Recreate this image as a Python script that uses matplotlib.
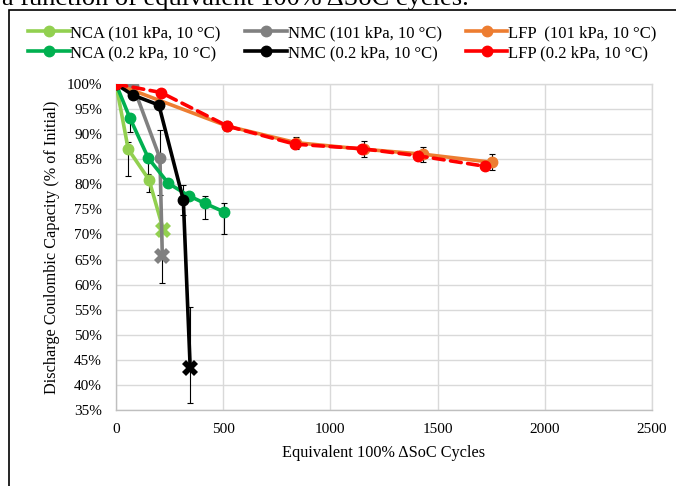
import matplotlib
matplotlib.use('Agg')
import matplotlib.pyplot as plt
from matplotlib.patches import Rectangle
from matplotlib.lines import Line2D
from matplotlib.ticker import FuncFormatter

plt.rcParams['font.family'] = ['Liberation Serif', 'DejaVu Serif']

# NCA, 101 kPa
nca_hi_x = [0, 57, 154, 221]
nca_hi_y = [100, 87.0, 80.9, 70.9]
nca_hi_lo = [0, 5.3, 2.4, 0]
nca_hi_up = [0, 1.5, 0, 0]

# NMC, 101 kPa
nmc_hi_x = [0, 80, 205, 216]
nmc_hi_y = [100, 99.6, 85.2, 65.7]
nmc_hi_lo = [0, 0, 7.3, 5.4]
nmc_hi_up = [0, 0, 5.6, 5.4]

# LFP, 101 kPa
lfp_hi_x = [0, 520, 840, 1155, 1433, 1752]
lfp_hi_y = [100, 91.6, 88.3, 87.0, 86.0, 84.4]
lfp_hi_err = [0, 1.0, 1.2, 1.6, 1.5, 1.6]

# NCA, 0.2 kPa
nca_lo_x = [0, 65, 151, 244, 340, 415, 504]
nca_lo_y = [100, 93.2, 85.2, 80.2, 77.7, 76.2, 74.5]
nca_lo_lo = [0, 2.8, 3.1, 0, 0, 3.2, 4.4]
nca_lo_up = [0, 0, 0, 0, 0, 1.5, 1.8]

# NMC, 0.2 kPa
nmc_lo_x = [0, 78, 200, 314, 346]
nmc_lo_y = [100, 97.8, 95.8, 76.9, 43.4]
nmc_lo_lo = [0, 0, 0, 3.0, 7.1]
nmc_lo_up = [0, 0, 0, 3.0, 12.1]

# LFP, 0.2 kPa
lfp_lo_x = [0, 210, 520, 835, 1148, 1408, 1720]
lfp_lo_y = [100, 98.3, 91.6, 88.0, 87.1, 85.7, 83.6]

c_nca_hi = '#92D050'
c_nmc_hi = '#808080'
c_lfp_hi = '#ED7D31'
c_nca_lo = '#00B050'
c_nmc_lo = '#000000'
c_lfp_lo = '#FF0000'

fig = plt.figure(figsize=(6.76, 4.86), dpi=100)
ax = fig.add_axes([116/676, 1-410/486, 536/676, 326/486])

lw = 2.6
ms = 7.5
eb = dict(fmt='none', ecolor='black', elinewidth=0.8, capsize=2.5, capthick=0.8)


def series(x, y, color, z, last_x=False, ls='-'):
    n = len(x)
    circ = list(range(n - 1)) if last_x else list(range(n))
    ax.plot(x, y, color=color, lw=lw, ls=ls, marker='o', ms=ms,
            markevery=circ, zorder=z, dash_capstyle='round',
            solid_capstyle='round')
    if last_x:
        ax.plot(x[-1:], y[-1:], 'X', color=color, ms=12, mew=0, zorder=z)


# error bars first so the markers sit over them
ax.errorbar(nca_hi_x, nca_hi_y, yerr=[nca_hi_lo, nca_hi_up], zorder=2, **eb)
ax.errorbar(nmc_hi_x, nmc_hi_y, yerr=[nmc_hi_lo, nmc_hi_up], zorder=2, **eb)
ax.errorbar(lfp_hi_x, lfp_hi_y, yerr=lfp_hi_err, zorder=2, **eb)
ax.errorbar(nca_lo_x, nca_lo_y, yerr=[nca_lo_lo, nca_lo_up], zorder=2, **eb)
ax.errorbar(nmc_lo_x, nmc_lo_y, yerr=[nmc_lo_lo, nmc_lo_up], zorder=2, **eb)

series(nca_hi_x, nca_hi_y, c_nca_hi, 3, last_x=True)
series(nmc_hi_x, nmc_hi_y, c_nmc_hi, 4, last_x=True)
series(lfp_hi_x, lfp_hi_y, c_lfp_hi, 5)
series(nca_lo_x, nca_lo_y, c_nca_lo, 6)
series(nmc_lo_x, nmc_lo_y, c_nmc_lo, 7, last_x=True)
series(lfp_lo_x, lfp_lo_y, c_lfp_lo, 8, ls=(0, (3.0, 1.8)))

ax.set_xlim(0, 2500)
ax.set_ylim(35, 100)
ax.set_xticks(range(0, 2501, 500))
ax.set_yticks(range(35, 101, 5))
ax.yaxis.set_major_formatter(FuncFormatter(lambda v, p: f'{v:.0f}%'))
ax.grid(True, color='#D9D9D9', lw=1)
ax.set_axisbelow(True)
for s in ax.spines.values():
    s.set_color('#D9D9D9')
    s.set_linewidth(1)
ax.spines['left'].set_color('#BFBFBF')
ax.spines['bottom'].set_color('#BFBFBF')
ax.tick_params(length=0, labelsize=11, colors='black')
ax.tick_params(axis='y', pad=10)
ax.tick_params(axis='x', pad=9)
ax.set_xlabel('Equivalent 100% ΔSoC Cycles', fontsize=11.7, labelpad=7)
ax.set_ylabel('Discharge Coulombic Capacity (% of Initial)', fontsize=11.7, labelpad=5)

# legend, 3 columns; matplotlib fills column by column
labels = ['NCA (101 kPa, 10 °C)', 'NCA (0.2 kPa, 10 °C)',
          'NMC (101 kPa, 10 °C)', 'NMC (0.2 kPa, 10 °C)',
          'LFP  (101 kPa, 10 °C)', 'LFP (0.2 kPa, 10 °C)']
colors = [c_nca_hi, c_nca_lo, c_nmc_hi, c_nmc_lo, c_lfp_hi, c_lfp_lo]
handles = [Line2D([], [], color=c, lw=lw, marker='o', ms=ms) for c in colors]
fig.legend(handles, labels, ncol=3, loc='upper left',
           bbox_to_anchor=(28/676, 1-25/486), frameon=False, fontsize=12,
           handlelength=2.5, handletextpad=0.05, columnspacing=1.45,
           labelspacing=0.25, borderpad=0, borderaxespad=0)

# outer frame and caption line above it
fig.patches.append(Rectangle((9/676, -0.1), 1.0, 1.1 - 10/486, transform=fig.transFigure,
                             fill=False, edgecolor='black', lw=1.2))
fig.text(2/676, 1 - 5/486, 'a function of equivalent 100% ΔSoC cycles.',
         fontsize=19, va='baseline', ha='left')

fig.savefig('out.png', dpi=100)
